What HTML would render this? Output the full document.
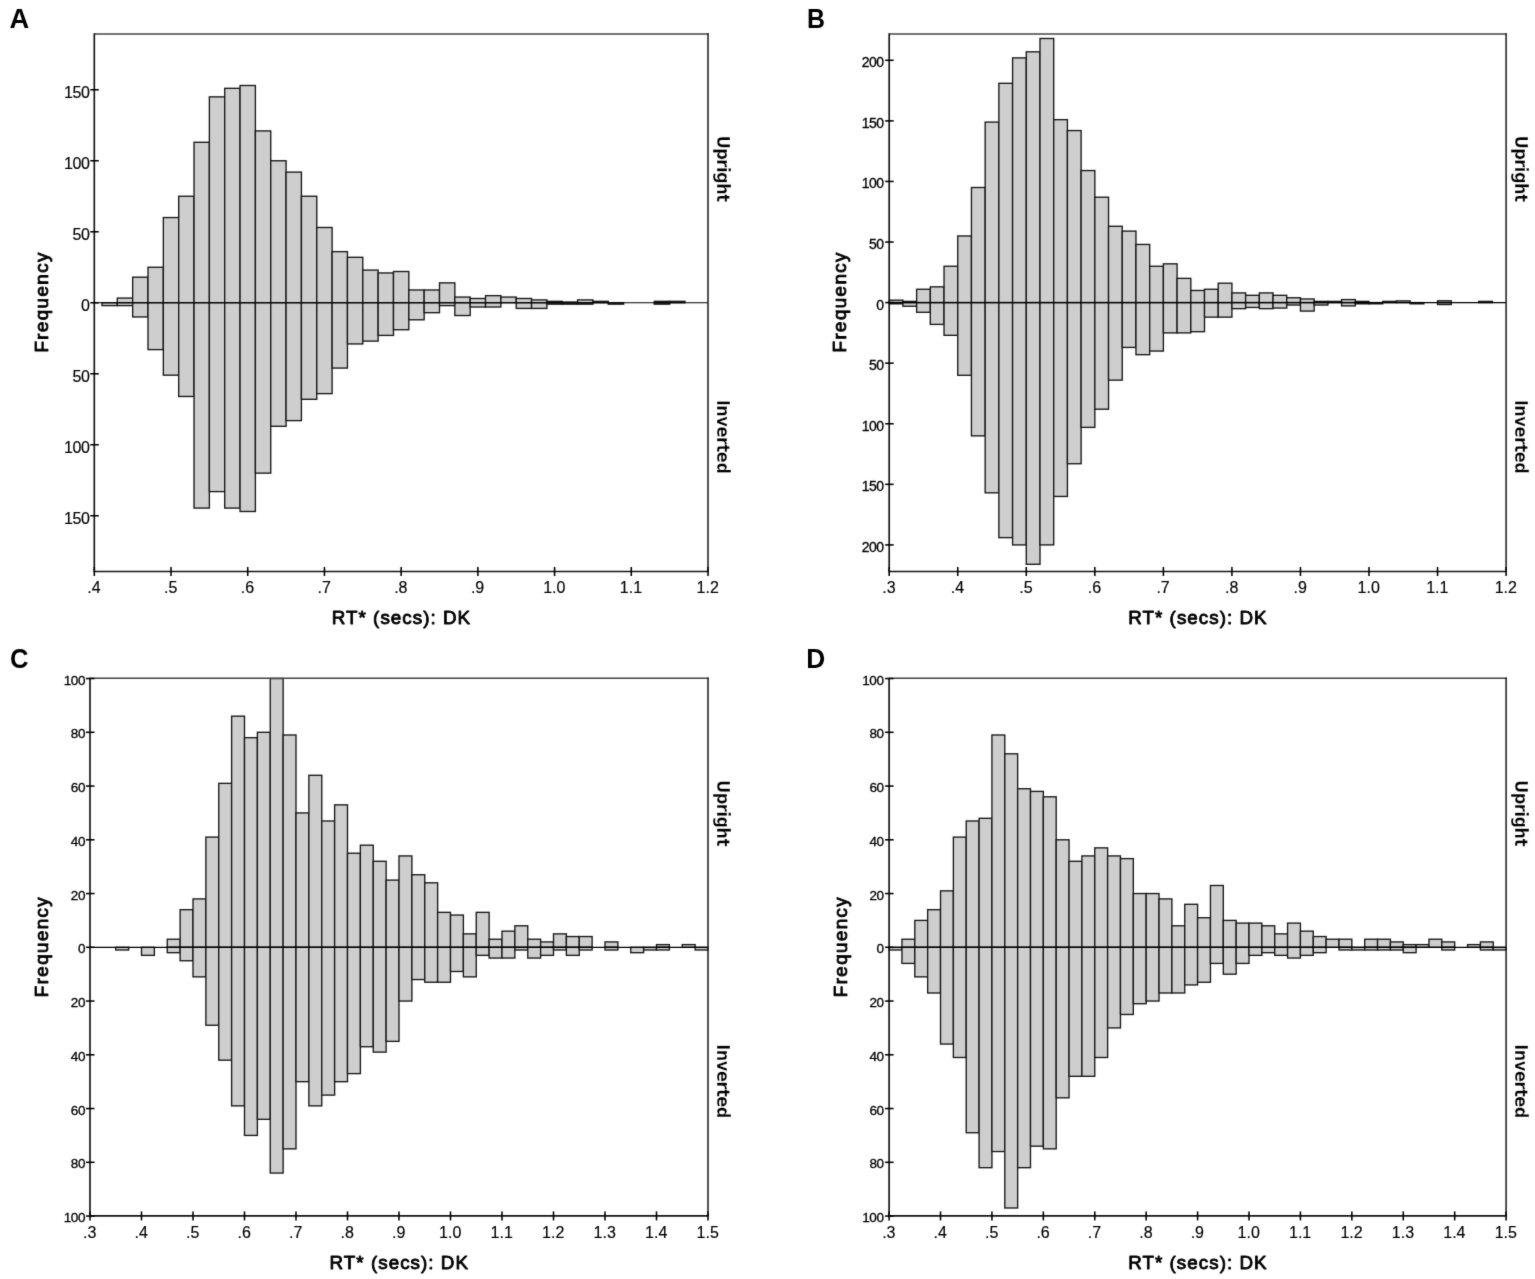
<!DOCTYPE html>
<html lang="en"><head><meta charset="utf-8"><title>RT distributions</title>
<style>
html,body{margin:0;padding:0;background:#fff;}
body{width:1535px;height:1279px;overflow:hidden;}
svg{display:block;}
text{font-family:"Liberation Sans",Arial,Helvetica,sans-serif;fill:#000;}
.tl{stroke:#000;stroke-width:0.15px;}
.tm{stroke:#000;stroke-width:0.3px;}
.b{fill:#cecece;stroke:#181818;stroke-width:1.35;}
.ax{stroke:#141414;stroke-width:1.65;fill:none;}
.fr{stroke:#1a1a1a;stroke-width:1.5;fill:none;}
.ft{stroke:#444;stroke-width:1.5;fill:none;}
.tk{stroke:#000;stroke-width:1.55;fill:none;}
.zl{stroke:#000;stroke-width:1.2;fill:none;}
.pl{font-weight:bold;font-size:27.3px;}
.at{font-weight:normal;font-size:18.8px;stroke:#000;stroke-width:0.85px;stroke-linejoin:round;}
.sd{font-family:"DejaVu Sans Condensed","DejaVu Sans","Liberation Sans",sans-serif;font-weight:bold;font-size:18px;letter-spacing:-0.45px;stroke:#fff;stroke-width:0.3px;paint-order:fill stroke;}
</style></head><body>
<svg width="1535" height="1279" viewBox="0 0 1535 1279">
<defs><filter id="soft" x="0" y="0" width="1535" height="1279" filterUnits="userSpaceOnUse" color-interpolation-filters="sRGB"><feConvolveMatrix order="3" kernelMatrix="0.011 0.084 0.011 0.084 0.62 0.084 0.011 0.084 0.011" divisor="1" edgeMode="duplicate" preserveAlpha="true"/></filter></defs>
<g filter="url(#soft)">
<rect x="0" y="0" width="1535" height="1279" fill="#fff"/>
<g id="panel-A">
<rect class="b" x="101.97" y="302.75" width="15.34" height="2.84"/>
<rect class="b" x="117.31" y="298.06" width="15.34" height="4.69"/>
<rect class="b" x="117.31" y="302.75" width="15.34" height="2.84"/>
<rect class="b" x="132.66" y="277.19" width="15.34" height="25.56"/>
<rect class="b" x="132.66" y="302.75" width="15.34" height="14.2"/>
<rect class="b" x="148" y="267.25" width="15.34" height="35.5"/>
<rect class="b" x="148" y="302.75" width="15.34" height="46.86"/>
<rect class="b" x="163.34" y="217.55" width="15.34" height="85.2"/>
<rect class="b" x="163.34" y="302.75" width="15.34" height="72.42"/>
<rect class="b" x="178.68" y="196.25" width="15.34" height="106.5"/>
<rect class="b" x="178.68" y="302.75" width="15.34" height="93.72"/>
<rect class="b" x="194.03" y="142.29" width="15.34" height="160.46"/>
<rect class="b" x="194.03" y="302.75" width="15.34" height="205.33"/>
<rect class="b" x="209.37" y="96.85" width="15.34" height="205.9"/>
<rect class="b" x="209.37" y="302.75" width="15.34" height="188.86"/>
<rect class="b" x="224.71" y="88.33" width="15.34" height="214.42"/>
<rect class="b" x="224.71" y="302.75" width="15.34" height="205.33"/>
<rect class="b" x="240.05" y="85.49" width="15.34" height="217.26"/>
<rect class="b" x="240.05" y="302.75" width="15.34" height="208.74"/>
<rect class="b" x="255.4" y="130.93" width="15.34" height="171.82"/>
<rect class="b" x="255.4" y="302.75" width="15.34" height="170.4"/>
<rect class="b" x="270.74" y="160.75" width="15.34" height="142"/>
<rect class="b" x="270.74" y="302.75" width="15.34" height="123.54"/>
<rect class="b" x="286.08" y="172.11" width="15.34" height="130.64"/>
<rect class="b" x="286.08" y="302.75" width="15.34" height="117.86"/>
<rect class="b" x="301.42" y="196.25" width="15.34" height="106.5"/>
<rect class="b" x="301.42" y="302.75" width="15.34" height="96.56"/>
<rect class="b" x="316.77" y="227.49" width="15.34" height="75.26"/>
<rect class="b" x="316.77" y="302.75" width="15.34" height="90.88"/>
<rect class="b" x="332.11" y="251.63" width="15.34" height="51.12"/>
<rect class="b" x="332.11" y="302.75" width="15.34" height="65.32"/>
<rect class="b" x="347.45" y="257.31" width="15.34" height="45.44"/>
<rect class="b" x="347.45" y="302.75" width="15.34" height="41.18"/>
<rect class="b" x="362.79" y="270.09" width="15.34" height="32.66"/>
<rect class="b" x="362.79" y="302.75" width="15.34" height="38.34"/>
<rect class="b" x="378.14" y="272.93" width="15.34" height="29.82"/>
<rect class="b" x="378.14" y="302.75" width="15.34" height="32.66"/>
<rect class="b" x="393.48" y="271.51" width="15.34" height="31.24"/>
<rect class="b" x="393.48" y="302.75" width="15.34" height="26.98"/>
<rect class="b" x="408.82" y="289.97" width="15.34" height="12.78"/>
<rect class="b" x="408.82" y="302.75" width="15.34" height="17.04"/>
<rect class="b" x="424.16" y="289.97" width="15.34" height="12.78"/>
<rect class="b" x="424.16" y="302.75" width="15.34" height="9.94"/>
<rect class="b" x="439.51" y="282.87" width="15.34" height="19.88"/>
<rect class="b" x="439.51" y="302.75" width="15.34" height="2.84"/>
<rect class="b" x="454.85" y="297.07" width="15.34" height="5.68"/>
<rect class="b" x="454.85" y="302.75" width="15.34" height="12.78"/>
<rect class="b" x="470.19" y="298.49" width="15.34" height="4.26"/>
<rect class="b" x="470.19" y="302.75" width="15.34" height="4.26"/>
<rect class="b" x="485.53" y="295.65" width="15.34" height="7.1"/>
<rect class="b" x="485.53" y="302.75" width="15.34" height="4.26"/>
<rect class="b" x="500.88" y="297.07" width="15.34" height="5.68"/>
<rect class="b" x="516.22" y="298.49" width="15.34" height="4.26"/>
<rect class="b" x="516.22" y="302.75" width="15.34" height="5.68"/>
<rect class="b" x="531.56" y="299.91" width="15.34" height="2.84"/>
<rect class="b" x="531.56" y="302.75" width="15.34" height="5.68"/>
<rect class="b" x="546.9" y="301.33" width="15.34" height="1.42"/>
<rect class="b" x="546.9" y="302.75" width="15.34" height="1.42"/>
<rect class="b" x="562.25" y="302.04" width="15.34" height="0.71"/>
<rect class="b" x="562.25" y="302.75" width="15.34" height="1.42"/>
<rect class="b" x="577.59" y="299.91" width="15.34" height="2.84"/>
<rect class="b" x="577.59" y="302.75" width="15.34" height="1.42"/>
<rect class="b" x="592.93" y="301.33" width="15.34" height="1.42"/>
<rect class="b" x="608.27" y="302.75" width="15.34" height="1.42"/>
<rect class="b" x="654.3" y="301.33" width="15.34" height="1.42"/>
<rect class="b" x="654.3" y="302.75" width="15.34" height="1.42"/>
<rect class="b" x="669.64" y="301.33" width="15.34" height="1.42"/>
<line class="zl" x1="94.3" y1="302.75" x2="708" y2="302.75"/>
<path class="ft" d="M94.3 33.9H708.7"/>
<path class="fr" d="M708 33.2V571.5"/>
<path class="ax" d="M94.3 33.3V571.5H708.6"/>
<line class="tk" x1="90.3" y1="89.75" x2="98.8" y2="89.75"/>
<text class="tl" x="89.3" y="98.18" text-anchor="end" font-size="16" letter-spacing="-0.5">150</text>
<line class="tk" x1="90.3" y1="160.75" x2="98.8" y2="160.75"/>
<text class="tl" x="89.3" y="169.18" text-anchor="end" font-size="16" letter-spacing="-0.5">100</text>
<line class="tk" x1="90.3" y1="231.75" x2="98.8" y2="231.75"/>
<text class="tl" x="89.3" y="240.18" text-anchor="end" font-size="16" letter-spacing="-0.5">50</text>
<line class="tk" x1="90.3" y1="302.75" x2="98.8" y2="302.75"/>
<text class="tl" x="89.3" y="311.18" text-anchor="end" font-size="16" letter-spacing="-0.5">0</text>
<line class="tk" x1="90.3" y1="373.75" x2="98.8" y2="373.75"/>
<text class="tl" x="89.3" y="382.18" text-anchor="end" font-size="16" letter-spacing="-0.5">50</text>
<line class="tk" x1="90.3" y1="444.75" x2="98.8" y2="444.75"/>
<text class="tl" x="89.3" y="453.18" text-anchor="end" font-size="16" letter-spacing="-0.5">100</text>
<line class="tk" x1="90.3" y1="515.75" x2="98.8" y2="515.75"/>
<text class="tl" x="89.3" y="524.18" text-anchor="end" font-size="16" letter-spacing="-0.5">150</text>
<line class="tk" x1="94.3" y1="567" x2="94.3" y2="576"/>
<text class="tl" x="94" y="593.1" text-anchor="middle" font-size="16">.4</text>
<line class="tk" x1="171.01" y1="567" x2="171.01" y2="576"/>
<text class="tl" x="170.71" y="593.1" text-anchor="middle" font-size="16">.5</text>
<line class="tk" x1="247.73" y1="567" x2="247.73" y2="576"/>
<text class="tl" x="247.43" y="593.1" text-anchor="middle" font-size="16">.6</text>
<line class="tk" x1="324.44" y1="567" x2="324.44" y2="576"/>
<text class="tl" x="324.14" y="593.1" text-anchor="middle" font-size="16">.7</text>
<line class="tk" x1="401.15" y1="567" x2="401.15" y2="576"/>
<text class="tl" x="400.85" y="593.1" text-anchor="middle" font-size="16">.8</text>
<line class="tk" x1="477.86" y1="567" x2="477.86" y2="576"/>
<text class="tl" x="477.56" y="593.1" text-anchor="middle" font-size="16">.9</text>
<line class="tk" x1="554.58" y1="567" x2="554.58" y2="576"/>
<text class="tl" x="554.28" y="593.1" text-anchor="middle" font-size="16">1.0</text>
<line class="tk" x1="631.29" y1="567" x2="631.29" y2="576"/>
<text class="tl" x="630.99" y="593.1" text-anchor="middle" font-size="16">1.1</text>
<line class="tk" x1="708" y1="567" x2="708" y2="576"/>
<text class="tl" x="707.7" y="593.1" text-anchor="middle" font-size="16">1.2</text>
<text class="at" x="401.45" y="624.1" text-anchor="middle" letter-spacing="1.04">RT* (secs): DK</text>
<text class="at" transform="translate(47.8 301.95) rotate(-90)" text-anchor="middle" letter-spacing="1.4">Frequency</text>
<text class="sd" transform="translate(716.9 168.52) rotate(90)" text-anchor="middle">Upright</text>
<text class="sd" transform="translate(716.9 436.62) rotate(90)" text-anchor="middle">Inverted</text>
<text class="pl" transform="translate(9.6 28.3) scale(1.0 1)">A</text>
</g>
<g id="panel-B">
<rect class="b" x="889.2" y="300.18" width="13.71" height="2.42"/>
<rect class="b" x="889.2" y="302.6" width="13.71" height="1.21"/>
<rect class="b" x="902.91" y="301.39" width="13.71" height="1.21"/>
<rect class="b" x="902.91" y="302.6" width="13.71" height="3.63"/>
<rect class="b" x="916.62" y="289.27" width="13.71" height="13.33"/>
<rect class="b" x="916.62" y="302.6" width="13.71" height="9.69"/>
<rect class="b" x="930.33" y="286.85" width="13.71" height="15.75"/>
<rect class="b" x="930.33" y="302.6" width="13.71" height="21.81"/>
<rect class="b" x="944.04" y="266.25" width="13.71" height="36.34"/>
<rect class="b" x="944.04" y="302.6" width="13.71" height="32.71"/>
<rect class="b" x="957.74" y="235.97" width="13.71" height="66.63"/>
<rect class="b" x="957.74" y="302.6" width="13.71" height="72.69"/>
<rect class="b" x="971.45" y="187.51" width="13.71" height="115.09"/>
<rect class="b" x="971.45" y="302.6" width="13.71" height="133.27"/>
<rect class="b" x="985.16" y="122.09" width="13.71" height="180.51"/>
<rect class="b" x="985.16" y="302.6" width="13.71" height="190.21"/>
<rect class="b" x="998.87" y="83.32" width="13.71" height="219.28"/>
<rect class="b" x="998.87" y="302.6" width="13.71" height="235.03"/>
<rect class="b" x="1012.58" y="57.88" width="13.71" height="244.72"/>
<rect class="b" x="1012.58" y="302.6" width="13.71" height="242.3"/>
<rect class="b" x="1026.29" y="51.82" width="13.71" height="250.78"/>
<rect class="b" x="1026.29" y="302.6" width="13.71" height="261.68"/>
<rect class="b" x="1040" y="38.49" width="13.71" height="264.11"/>
<rect class="b" x="1040" y="302.6" width="13.71" height="242.3"/>
<rect class="b" x="1053.71" y="119.66" width="13.71" height="182.94"/>
<rect class="b" x="1053.71" y="302.6" width="13.71" height="193.84"/>
<rect class="b" x="1067.42" y="130.57" width="13.71" height="172.03"/>
<rect class="b" x="1067.42" y="302.6" width="13.71" height="161.13"/>
<rect class="b" x="1081.12" y="170.55" width="13.71" height="132.05"/>
<rect class="b" x="1081.12" y="302.6" width="13.71" height="124.78"/>
<rect class="b" x="1094.83" y="197.2" width="13.71" height="105.4"/>
<rect class="b" x="1094.83" y="302.6" width="13.71" height="106.61"/>
<rect class="b" x="1108.54" y="226.28" width="13.71" height="76.32"/>
<rect class="b" x="1108.54" y="302.6" width="13.71" height="77.54"/>
<rect class="b" x="1122.25" y="231.12" width="13.71" height="71.48"/>
<rect class="b" x="1122.25" y="302.6" width="13.71" height="44.83"/>
<rect class="b" x="1135.96" y="244.45" width="13.71" height="58.15"/>
<rect class="b" x="1135.96" y="302.6" width="13.71" height="52.09"/>
<rect class="b" x="1149.67" y="266.25" width="13.71" height="36.34"/>
<rect class="b" x="1149.67" y="302.6" width="13.71" height="48.46"/>
<rect class="b" x="1163.38" y="263.83" width="13.71" height="38.77"/>
<rect class="b" x="1163.38" y="302.6" width="13.71" height="30.29"/>
<rect class="b" x="1177.09" y="278.37" width="13.71" height="24.23"/>
<rect class="b" x="1177.09" y="302.6" width="13.71" height="30.29"/>
<rect class="b" x="1190.8" y="290.49" width="13.71" height="12.12"/>
<rect class="b" x="1190.8" y="302.6" width="13.71" height="29.08"/>
<rect class="b" x="1204.5" y="289.27" width="13.71" height="13.33"/>
<rect class="b" x="1204.5" y="302.6" width="13.71" height="14.54"/>
<rect class="b" x="1218.21" y="283.22" width="13.71" height="19.38"/>
<rect class="b" x="1218.21" y="302.6" width="13.71" height="14.54"/>
<rect class="b" x="1231.92" y="292.91" width="13.71" height="9.69"/>
<rect class="b" x="1231.92" y="302.6" width="13.71" height="6.06"/>
<rect class="b" x="1245.63" y="295.33" width="13.71" height="7.27"/>
<rect class="b" x="1245.63" y="302.6" width="13.71" height="4.85"/>
<rect class="b" x="1259.34" y="292.91" width="13.71" height="9.69"/>
<rect class="b" x="1259.34" y="302.6" width="13.71" height="6.06"/>
<rect class="b" x="1273.05" y="295.33" width="13.71" height="7.27"/>
<rect class="b" x="1273.05" y="302.6" width="13.71" height="5.45"/>
<rect class="b" x="1286.76" y="297.75" width="13.71" height="4.85"/>
<rect class="b" x="1286.76" y="302.6" width="13.71" height="2.42"/>
<rect class="b" x="1300.47" y="298.97" width="13.71" height="3.63"/>
<rect class="b" x="1300.47" y="302.6" width="13.71" height="8.48"/>
<rect class="b" x="1314.18" y="301.39" width="13.71" height="1.21"/>
<rect class="b" x="1314.18" y="302.6" width="13.71" height="2.42"/>
<rect class="b" x="1327.88" y="301.39" width="13.71" height="1.21"/>
<rect class="b" x="1341.59" y="299.57" width="13.71" height="3.03"/>
<rect class="b" x="1341.59" y="302.6" width="13.71" height="3.27"/>
<rect class="b" x="1355.3" y="301.39" width="13.71" height="1.21"/>
<rect class="b" x="1355.3" y="302.6" width="13.71" height="1.21"/>
<rect class="b" x="1369.01" y="302.6" width="13.71" height="1.21"/>
<rect class="b" x="1382.72" y="301.39" width="13.71" height="1.21"/>
<rect class="b" x="1396.43" y="300.9" width="13.71" height="1.7"/>
<rect class="b" x="1410.14" y="302.6" width="13.71" height="1.21"/>
<rect class="b" x="1437.56" y="300.78" width="13.71" height="1.82"/>
<rect class="b" x="1437.56" y="302.6" width="13.71" height="1.94"/>
<rect class="b" x="1478.68" y="301.39" width="13.71" height="1.21"/>
<line class="zl" x1="889.2" y1="302.6" x2="1506.1" y2="302.6"/>
<path class="ft" d="M889.2 33.9H1506.8"/>
<path class="fr" d="M1506.1 33.2V571.5"/>
<path class="ax" d="M889.2 33.3V571.5H1506.7"/>
<line class="tk" x1="885.2" y1="60.3" x2="893.7" y2="60.3"/>
<text class="tm" x="883.4" y="67.31" text-anchor="end" font-size="14" letter-spacing="-0.55">200</text>
<line class="tk" x1="885.2" y1="120.88" x2="893.7" y2="120.88"/>
<text class="tm" x="883.4" y="127.89" text-anchor="end" font-size="14" letter-spacing="-0.55">150</text>
<line class="tk" x1="885.2" y1="181.45" x2="893.7" y2="181.45"/>
<text class="tm" x="883.4" y="188.46" text-anchor="end" font-size="14" letter-spacing="-0.55">100</text>
<line class="tk" x1="885.2" y1="242.03" x2="893.7" y2="242.03"/>
<text class="tm" x="883.4" y="249.04" text-anchor="end" font-size="14" letter-spacing="-0.55">50</text>
<line class="tk" x1="885.2" y1="302.6" x2="893.7" y2="302.6"/>
<text class="tm" x="883.4" y="309.61" text-anchor="end" font-size="14" letter-spacing="-0.55">0</text>
<line class="tk" x1="885.2" y1="363.18" x2="893.7" y2="363.18"/>
<text class="tm" x="883.4" y="370.19" text-anchor="end" font-size="14" letter-spacing="-0.55">50</text>
<line class="tk" x1="885.2" y1="423.75" x2="893.7" y2="423.75"/>
<text class="tm" x="883.4" y="430.76" text-anchor="end" font-size="14" letter-spacing="-0.55">100</text>
<line class="tk" x1="885.2" y1="484.33" x2="893.7" y2="484.33"/>
<text class="tm" x="883.4" y="491.34" text-anchor="end" font-size="14" letter-spacing="-0.55">150</text>
<line class="tk" x1="885.2" y1="544.9" x2="893.7" y2="544.9"/>
<text class="tm" x="883.4" y="551.91" text-anchor="end" font-size="14" letter-spacing="-0.55">200</text>
<line class="tk" x1="889.2" y1="567" x2="889.2" y2="576"/>
<text class="tl" x="888.9" y="593.1" text-anchor="middle" font-size="16">.3</text>
<line class="tk" x1="957.74" y1="567" x2="957.74" y2="576"/>
<text class="tl" x="957.44" y="593.1" text-anchor="middle" font-size="16">.4</text>
<line class="tk" x1="1026.29" y1="567" x2="1026.29" y2="576"/>
<text class="tl" x="1025.99" y="593.1" text-anchor="middle" font-size="16">.5</text>
<line class="tk" x1="1094.83" y1="567" x2="1094.83" y2="576"/>
<text class="tl" x="1094.53" y="593.1" text-anchor="middle" font-size="16">.6</text>
<line class="tk" x1="1163.38" y1="567" x2="1163.38" y2="576"/>
<text class="tl" x="1163.08" y="593.1" text-anchor="middle" font-size="16">.7</text>
<line class="tk" x1="1231.92" y1="567" x2="1231.92" y2="576"/>
<text class="tl" x="1231.62" y="593.1" text-anchor="middle" font-size="16">.8</text>
<line class="tk" x1="1300.47" y1="567" x2="1300.47" y2="576"/>
<text class="tl" x="1300.17" y="593.1" text-anchor="middle" font-size="16">.9</text>
<line class="tk" x1="1369.01" y1="567" x2="1369.01" y2="576"/>
<text class="tl" x="1368.71" y="593.1" text-anchor="middle" font-size="16">1.0</text>
<line class="tk" x1="1437.56" y1="567" x2="1437.56" y2="576"/>
<text class="tl" x="1437.26" y="593.1" text-anchor="middle" font-size="16">1.1</text>
<line class="tk" x1="1506.1" y1="567" x2="1506.1" y2="576"/>
<text class="tl" x="1505.8" y="593.1" text-anchor="middle" font-size="16">1.2</text>
<text class="at" x="1197.95" y="624.1" text-anchor="middle" letter-spacing="1.04">RT* (secs): DK</text>
<text class="at" transform="translate(846.3 301.8) rotate(-90)" text-anchor="middle" letter-spacing="1.4">Frequency</text>
<text class="sd" transform="translate(1515 168.45) rotate(90)" text-anchor="middle">Upright</text>
<text class="sd" transform="translate(1515 436.55) rotate(90)" text-anchor="middle">Inverted</text>
<text class="pl" transform="translate(807.1 28.3) scale(0.912 1)">B</text>
</g>
<g id="panel-C">
<rect class="b" x="115.75" y="947.3" width="12.88" height="2.69"/>
<rect class="b" x="141.5" y="947.3" width="12.88" height="8.06"/>
<rect class="b" x="167.25" y="939.24" width="12.88" height="8.06"/>
<rect class="b" x="167.25" y="947.3" width="12.88" height="5.38"/>
<rect class="b" x="180.12" y="909.67" width="12.88" height="37.62"/>
<rect class="b" x="180.12" y="947.3" width="12.88" height="13.44"/>
<rect class="b" x="193" y="898.92" width="12.88" height="48.38"/>
<rect class="b" x="193" y="947.3" width="12.88" height="29.56"/>
<rect class="b" x="205.88" y="837.11" width="12.88" height="110.19"/>
<rect class="b" x="205.88" y="947.3" width="12.88" height="77.94"/>
<rect class="b" x="218.75" y="783.36" width="12.88" height="163.94"/>
<rect class="b" x="218.75" y="947.3" width="12.88" height="112.88"/>
<rect class="b" x="231.62" y="716.17" width="12.88" height="231.12"/>
<rect class="b" x="231.62" y="947.3" width="12.88" height="158.56"/>
<rect class="b" x="244.5" y="737.67" width="12.88" height="209.62"/>
<rect class="b" x="244.5" y="947.3" width="12.88" height="188.12"/>
<rect class="b" x="257.38" y="732.3" width="12.88" height="215"/>
<rect class="b" x="257.38" y="947.3" width="12.88" height="172"/>
<rect class="b" x="270.25" y="678.55" width="12.88" height="268.75"/>
<rect class="b" x="270.25" y="947.3" width="12.88" height="225.75"/>
<rect class="b" x="283.12" y="734.99" width="12.88" height="212.31"/>
<rect class="b" x="283.12" y="947.3" width="12.88" height="201.56"/>
<rect class="b" x="296" y="812.92" width="12.88" height="134.38"/>
<rect class="b" x="296" y="947.3" width="12.88" height="134.38"/>
<rect class="b" x="308.88" y="775.3" width="12.88" height="172"/>
<rect class="b" x="308.88" y="947.3" width="12.88" height="158.56"/>
<rect class="b" x="321.75" y="820.99" width="12.88" height="126.31"/>
<rect class="b" x="321.75" y="947.3" width="12.88" height="147.81"/>
<rect class="b" x="334.62" y="804.86" width="12.88" height="142.44"/>
<rect class="b" x="334.62" y="947.3" width="12.88" height="134.38"/>
<rect class="b" x="347.5" y="853.24" width="12.88" height="94.06"/>
<rect class="b" x="347.5" y="947.3" width="12.88" height="126.31"/>
<rect class="b" x="360.37" y="845.17" width="12.88" height="102.12"/>
<rect class="b" x="360.37" y="947.3" width="12.88" height="99.44"/>
<rect class="b" x="373.25" y="861.3" width="12.88" height="86"/>
<rect class="b" x="373.25" y="947.3" width="12.88" height="104.81"/>
<rect class="b" x="386.12" y="880.11" width="12.88" height="67.19"/>
<rect class="b" x="386.12" y="947.3" width="12.88" height="94.06"/>
<rect class="b" x="399" y="855.92" width="12.88" height="91.38"/>
<rect class="b" x="399" y="947.3" width="12.88" height="53.75"/>
<rect class="b" x="411.88" y="874.74" width="12.88" height="72.56"/>
<rect class="b" x="411.88" y="947.3" width="12.88" height="32.25"/>
<rect class="b" x="424.75" y="882.8" width="12.88" height="64.5"/>
<rect class="b" x="424.75" y="947.3" width="12.88" height="34.94"/>
<rect class="b" x="437.62" y="912.36" width="12.88" height="34.94"/>
<rect class="b" x="437.62" y="947.3" width="12.88" height="34.94"/>
<rect class="b" x="450.5" y="915.05" width="12.88" height="32.25"/>
<rect class="b" x="450.5" y="947.3" width="12.88" height="24.19"/>
<rect class="b" x="463.37" y="933.86" width="12.88" height="13.44"/>
<rect class="b" x="463.37" y="947.3" width="12.88" height="29.56"/>
<rect class="b" x="476.25" y="912.36" width="12.88" height="34.94"/>
<rect class="b" x="476.25" y="947.3" width="12.88" height="8.06"/>
<rect class="b" x="489.13" y="939.24" width="12.88" height="8.06"/>
<rect class="b" x="489.13" y="947.3" width="12.88" height="10.75"/>
<rect class="b" x="502" y="931.17" width="12.88" height="16.12"/>
<rect class="b" x="502" y="947.3" width="12.88" height="10.75"/>
<rect class="b" x="514.88" y="925.8" width="12.88" height="21.5"/>
<rect class="b" x="514.88" y="947.3" width="12.88" height="2.69"/>
<rect class="b" x="527.75" y="939.24" width="12.88" height="8.06"/>
<rect class="b" x="527.75" y="947.3" width="12.88" height="10.75"/>
<rect class="b" x="540.62" y="941.92" width="12.88" height="5.38"/>
<rect class="b" x="540.62" y="947.3" width="12.88" height="8.06"/>
<rect class="b" x="553.5" y="933.86" width="12.88" height="13.44"/>
<rect class="b" x="553.5" y="947.3" width="12.88" height="2.69"/>
<rect class="b" x="566.38" y="936.55" width="12.88" height="10.75"/>
<rect class="b" x="566.38" y="947.3" width="12.88" height="8.06"/>
<rect class="b" x="579.25" y="936.55" width="12.88" height="10.75"/>
<rect class="b" x="579.25" y="947.3" width="12.88" height="2.69"/>
<rect class="b" x="605" y="941.92" width="12.88" height="5.38"/>
<rect class="b" x="605" y="947.3" width="12.88" height="2.69"/>
<rect class="b" x="630.75" y="947.3" width="12.88" height="5.38"/>
<rect class="b" x="643.62" y="947.3" width="12.88" height="2.69"/>
<rect class="b" x="656.5" y="944.61" width="12.88" height="2.69"/>
<rect class="b" x="656.5" y="947.3" width="12.88" height="2.69"/>
<rect class="b" x="682.25" y="944.61" width="12.88" height="2.69"/>
<rect class="b" x="695.12" y="947.3" width="12.88" height="2.69"/>
<line class="zl" x1="90" y1="947.3" x2="708" y2="947.3"/>
<path class="ft" d="M90 678.3H708.7"/>
<path class="fr" d="M708 677.6V1215.9"/>
<path class="ax" d="M90 677.7V1215.9H708.6"/>
<line class="tk" x1="86" y1="678.55" x2="94.5" y2="678.55"/>
<text class="tm" x="85" y="684.63" text-anchor="end" font-size="13.5" letter-spacing="-0.4">100</text>
<line class="tk" x1="86" y1="732.3" x2="94.5" y2="732.3"/>
<text class="tm" x="85" y="738.38" text-anchor="end" font-size="13.5" letter-spacing="-0.4">80</text>
<line class="tk" x1="86" y1="786.05" x2="94.5" y2="786.05"/>
<text class="tm" x="85" y="792.13" text-anchor="end" font-size="13.5" letter-spacing="-0.4">60</text>
<line class="tk" x1="86" y1="839.8" x2="94.5" y2="839.8"/>
<text class="tm" x="85" y="845.88" text-anchor="end" font-size="13.5" letter-spacing="-0.4">40</text>
<line class="tk" x1="86" y1="893.55" x2="94.5" y2="893.55"/>
<text class="tm" x="85" y="899.63" text-anchor="end" font-size="13.5" letter-spacing="-0.4">20</text>
<line class="tk" x1="86" y1="947.3" x2="94.5" y2="947.3"/>
<text class="tm" x="85" y="953.38" text-anchor="end" font-size="13.5" letter-spacing="-0.4">0</text>
<line class="tk" x1="86" y1="1001.05" x2="94.5" y2="1001.05"/>
<text class="tm" x="85" y="1007.13" text-anchor="end" font-size="13.5" letter-spacing="-0.4">20</text>
<line class="tk" x1="86" y1="1054.8" x2="94.5" y2="1054.8"/>
<text class="tm" x="85" y="1060.88" text-anchor="end" font-size="13.5" letter-spacing="-0.4">40</text>
<line class="tk" x1="86" y1="1108.55" x2="94.5" y2="1108.55"/>
<text class="tm" x="85" y="1114.63" text-anchor="end" font-size="13.5" letter-spacing="-0.4">60</text>
<line class="tk" x1="86" y1="1162.3" x2="94.5" y2="1162.3"/>
<text class="tm" x="85" y="1168.38" text-anchor="end" font-size="13.5" letter-spacing="-0.4">80</text>
<line class="tk" x1="86" y1="1216.05" x2="94.5" y2="1216.05"/>
<text class="tm" x="85" y="1222.13" text-anchor="end" font-size="13.5" letter-spacing="-0.4">100</text>
<line class="tk" x1="90" y1="1211.4" x2="90" y2="1220.4"/>
<text class="tl" x="89.7" y="1237.5" text-anchor="middle" font-size="16">.3</text>
<line class="tk" x1="141.5" y1="1211.4" x2="141.5" y2="1220.4"/>
<text class="tl" x="141.2" y="1237.5" text-anchor="middle" font-size="16">.4</text>
<line class="tk" x1="193" y1="1211.4" x2="193" y2="1220.4"/>
<text class="tl" x="192.7" y="1237.5" text-anchor="middle" font-size="16">.5</text>
<line class="tk" x1="244.5" y1="1211.4" x2="244.5" y2="1220.4"/>
<text class="tl" x="244.2" y="1237.5" text-anchor="middle" font-size="16">.6</text>
<line class="tk" x1="296" y1="1211.4" x2="296" y2="1220.4"/>
<text class="tl" x="295.7" y="1237.5" text-anchor="middle" font-size="16">.7</text>
<line class="tk" x1="347.5" y1="1211.4" x2="347.5" y2="1220.4"/>
<text class="tl" x="347.2" y="1237.5" text-anchor="middle" font-size="16">.8</text>
<line class="tk" x1="399" y1="1211.4" x2="399" y2="1220.4"/>
<text class="tl" x="398.7" y="1237.5" text-anchor="middle" font-size="16">.9</text>
<line class="tk" x1="450.5" y1="1211.4" x2="450.5" y2="1220.4"/>
<text class="tl" x="450.2" y="1237.5" text-anchor="middle" font-size="16">1.0</text>
<line class="tk" x1="502" y1="1211.4" x2="502" y2="1220.4"/>
<text class="tl" x="501.7" y="1237.5" text-anchor="middle" font-size="16">1.1</text>
<line class="tk" x1="553.5" y1="1211.4" x2="553.5" y2="1220.4"/>
<text class="tl" x="553.2" y="1237.5" text-anchor="middle" font-size="16">1.2</text>
<line class="tk" x1="605" y1="1211.4" x2="605" y2="1220.4"/>
<text class="tl" x="604.7" y="1237.5" text-anchor="middle" font-size="16">1.3</text>
<line class="tk" x1="656.5" y1="1211.4" x2="656.5" y2="1220.4"/>
<text class="tl" x="656.2" y="1237.5" text-anchor="middle" font-size="16">1.4</text>
<line class="tk" x1="708" y1="1211.4" x2="708" y2="1220.4"/>
<text class="tl" x="707.7" y="1237.5" text-anchor="middle" font-size="16">1.5</text>
<text class="at" x="399.3" y="1268.5" text-anchor="middle" letter-spacing="1.04">RT* (secs): DK</text>
<text class="at" transform="translate(48.2 946.5) rotate(-90)" text-anchor="middle" letter-spacing="1.4">Frequency</text>
<text class="sd" transform="translate(716.9 813) rotate(90)" text-anchor="middle">Upright</text>
<text class="sd" transform="translate(716.9 1081.1) rotate(90)" text-anchor="middle">Inverted</text>
<text class="pl" transform="translate(9.9 668.2) scale(0.937 1)">C</text>
</g>
<g id="panel-D">
<rect class="b" x="889.1" y="947.3" width="12.85" height="2.69"/>
<rect class="b" x="901.95" y="939.24" width="12.85" height="8.06"/>
<rect class="b" x="901.95" y="947.3" width="12.85" height="16.12"/>
<rect class="b" x="914.81" y="920.42" width="12.85" height="26.88"/>
<rect class="b" x="914.81" y="947.3" width="12.85" height="29.56"/>
<rect class="b" x="927.66" y="909.67" width="12.85" height="37.62"/>
<rect class="b" x="927.66" y="947.3" width="12.85" height="45.69"/>
<rect class="b" x="940.52" y="890.86" width="12.85" height="56.44"/>
<rect class="b" x="940.52" y="947.3" width="12.85" height="96.75"/>
<rect class="b" x="953.37" y="837.11" width="12.85" height="110.19"/>
<rect class="b" x="953.37" y="947.3" width="12.85" height="110.19"/>
<rect class="b" x="966.23" y="820.99" width="12.85" height="126.31"/>
<rect class="b" x="966.23" y="947.3" width="12.85" height="185.44"/>
<rect class="b" x="979.08" y="818.3" width="12.85" height="129"/>
<rect class="b" x="979.08" y="947.3" width="12.85" height="220.38"/>
<rect class="b" x="991.93" y="734.99" width="12.85" height="212.31"/>
<rect class="b" x="991.93" y="947.3" width="12.85" height="204.25"/>
<rect class="b" x="1004.79" y="753.8" width="12.85" height="193.5"/>
<rect class="b" x="1004.79" y="947.3" width="12.85" height="260.69"/>
<rect class="b" x="1017.64" y="788.74" width="12.85" height="158.56"/>
<rect class="b" x="1017.64" y="947.3" width="12.85" height="220.38"/>
<rect class="b" x="1030.5" y="791.42" width="12.85" height="155.88"/>
<rect class="b" x="1030.5" y="947.3" width="12.85" height="198.88"/>
<rect class="b" x="1043.35" y="796.8" width="12.85" height="150.5"/>
<rect class="b" x="1043.35" y="947.3" width="12.85" height="201.56"/>
<rect class="b" x="1056.2" y="839.8" width="12.85" height="107.5"/>
<rect class="b" x="1056.2" y="947.3" width="12.85" height="150.5"/>
<rect class="b" x="1069.06" y="861.3" width="12.85" height="86"/>
<rect class="b" x="1069.06" y="947.3" width="12.85" height="129"/>
<rect class="b" x="1081.91" y="855.92" width="12.85" height="91.38"/>
<rect class="b" x="1081.91" y="947.3" width="12.85" height="129"/>
<rect class="b" x="1094.77" y="847.86" width="12.85" height="99.44"/>
<rect class="b" x="1094.77" y="947.3" width="12.85" height="110.19"/>
<rect class="b" x="1107.62" y="855.92" width="12.85" height="91.38"/>
<rect class="b" x="1107.62" y="947.3" width="12.85" height="80.62"/>
<rect class="b" x="1120.47" y="858.61" width="12.85" height="88.69"/>
<rect class="b" x="1120.47" y="947.3" width="12.85" height="67.19"/>
<rect class="b" x="1133.33" y="893.55" width="12.85" height="53.75"/>
<rect class="b" x="1133.33" y="947.3" width="12.85" height="56.44"/>
<rect class="b" x="1146.18" y="893.55" width="12.85" height="53.75"/>
<rect class="b" x="1146.18" y="947.3" width="12.85" height="53.75"/>
<rect class="b" x="1159.04" y="898.92" width="12.85" height="48.38"/>
<rect class="b" x="1159.04" y="947.3" width="12.85" height="45.69"/>
<rect class="b" x="1171.89" y="925.8" width="12.85" height="21.5"/>
<rect class="b" x="1171.89" y="947.3" width="12.85" height="45.69"/>
<rect class="b" x="1184.75" y="904.3" width="12.85" height="43"/>
<rect class="b" x="1184.75" y="947.3" width="12.85" height="37.62"/>
<rect class="b" x="1197.6" y="917.74" width="12.85" height="29.56"/>
<rect class="b" x="1197.6" y="947.3" width="12.85" height="34.94"/>
<rect class="b" x="1210.45" y="885.49" width="12.85" height="61.81"/>
<rect class="b" x="1210.45" y="947.3" width="12.85" height="16.12"/>
<rect class="b" x="1223.31" y="920.42" width="12.85" height="26.88"/>
<rect class="b" x="1223.31" y="947.3" width="12.85" height="26.88"/>
<rect class="b" x="1236.16" y="923.11" width="12.85" height="24.19"/>
<rect class="b" x="1236.16" y="947.3" width="12.85" height="16.12"/>
<rect class="b" x="1249.02" y="923.11" width="12.85" height="24.19"/>
<rect class="b" x="1249.02" y="947.3" width="12.85" height="8.06"/>
<rect class="b" x="1261.87" y="925.8" width="12.85" height="21.5"/>
<rect class="b" x="1261.87" y="947.3" width="12.85" height="5.38"/>
<rect class="b" x="1274.72" y="933.86" width="12.85" height="13.44"/>
<rect class="b" x="1274.72" y="947.3" width="12.85" height="8.06"/>
<rect class="b" x="1287.58" y="923.11" width="12.85" height="24.19"/>
<rect class="b" x="1287.58" y="947.3" width="12.85" height="10.75"/>
<rect class="b" x="1300.43" y="931.17" width="12.85" height="16.12"/>
<rect class="b" x="1300.43" y="947.3" width="12.85" height="8.06"/>
<rect class="b" x="1313.29" y="936.55" width="12.85" height="10.75"/>
<rect class="b" x="1313.29" y="947.3" width="12.85" height="5.38"/>
<rect class="b" x="1326.14" y="939.24" width="12.85" height="8.06"/>
<rect class="b" x="1339" y="939.24" width="12.85" height="8.06"/>
<rect class="b" x="1339" y="947.3" width="12.85" height="2.69"/>
<rect class="b" x="1351.85" y="947.3" width="12.85" height="2.69"/>
<rect class="b" x="1364.7" y="939.24" width="12.85" height="8.06"/>
<rect class="b" x="1364.7" y="947.3" width="12.85" height="2.69"/>
<rect class="b" x="1377.56" y="939.24" width="12.85" height="8.06"/>
<rect class="b" x="1377.56" y="947.3" width="12.85" height="2.69"/>
<rect class="b" x="1390.41" y="941.92" width="12.85" height="5.38"/>
<rect class="b" x="1390.41" y="947.3" width="12.85" height="2.69"/>
<rect class="b" x="1403.27" y="944.61" width="12.85" height="2.69"/>
<rect class="b" x="1403.27" y="947.3" width="12.85" height="5.38"/>
<rect class="b" x="1416.12" y="944.61" width="12.85" height="2.69"/>
<rect class="b" x="1428.97" y="939.24" width="12.85" height="8.06"/>
<rect class="b" x="1441.83" y="941.92" width="12.85" height="5.38"/>
<rect class="b" x="1441.83" y="947.3" width="12.85" height="2.69"/>
<rect class="b" x="1467.54" y="944.61" width="12.85" height="2.69"/>
<rect class="b" x="1480.39" y="941.92" width="12.85" height="5.38"/>
<rect class="b" x="1480.39" y="947.3" width="12.85" height="2.69"/>
<rect class="b" x="1493.25" y="947.3" width="12.85" height="2.69"/>
<line class="zl" x1="889.1" y1="947.3" x2="1506.1" y2="947.3"/>
<path class="ft" d="M889.1 678.3H1506.8"/>
<path class="fr" d="M1506.1 677.6V1215.9"/>
<path class="ax" d="M889.1 677.7V1215.9H1506.7"/>
<line class="tk" x1="885.1" y1="678.55" x2="893.6" y2="678.55"/>
<text class="tm" x="883.6" y="684.68" text-anchor="end" font-size="13.5" letter-spacing="-0.4">100</text>
<line class="tk" x1="885.1" y1="732.3" x2="893.6" y2="732.3"/>
<text class="tm" x="883.6" y="738.43" text-anchor="end" font-size="13.5" letter-spacing="-0.4">80</text>
<line class="tk" x1="885.1" y1="786.05" x2="893.6" y2="786.05"/>
<text class="tm" x="883.6" y="792.18" text-anchor="end" font-size="13.5" letter-spacing="-0.4">60</text>
<line class="tk" x1="885.1" y1="839.8" x2="893.6" y2="839.8"/>
<text class="tm" x="883.6" y="845.93" text-anchor="end" font-size="13.5" letter-spacing="-0.4">40</text>
<line class="tk" x1="885.1" y1="893.55" x2="893.6" y2="893.55"/>
<text class="tm" x="883.6" y="899.68" text-anchor="end" font-size="13.5" letter-spacing="-0.4">20</text>
<line class="tk" x1="885.1" y1="947.3" x2="893.6" y2="947.3"/>
<text class="tm" x="883.6" y="953.43" text-anchor="end" font-size="13.5" letter-spacing="-0.4">0</text>
<line class="tk" x1="885.1" y1="1001.05" x2="893.6" y2="1001.05"/>
<text class="tm" x="883.6" y="1007.18" text-anchor="end" font-size="13.5" letter-spacing="-0.4">20</text>
<line class="tk" x1="885.1" y1="1054.8" x2="893.6" y2="1054.8"/>
<text class="tm" x="883.6" y="1060.93" text-anchor="end" font-size="13.5" letter-spacing="-0.4">40</text>
<line class="tk" x1="885.1" y1="1108.55" x2="893.6" y2="1108.55"/>
<text class="tm" x="883.6" y="1114.68" text-anchor="end" font-size="13.5" letter-spacing="-0.4">60</text>
<line class="tk" x1="885.1" y1="1162.3" x2="893.6" y2="1162.3"/>
<text class="tm" x="883.6" y="1168.43" text-anchor="end" font-size="13.5" letter-spacing="-0.4">80</text>
<line class="tk" x1="885.1" y1="1216.05" x2="893.6" y2="1216.05"/>
<text class="tm" x="883.6" y="1222.18" text-anchor="end" font-size="13.5" letter-spacing="-0.4">100</text>
<line class="tk" x1="889.1" y1="1211.4" x2="889.1" y2="1220.4"/>
<text class="tl" x="888.8" y="1237.5" text-anchor="middle" font-size="16">.3</text>
<line class="tk" x1="940.52" y1="1211.4" x2="940.52" y2="1220.4"/>
<text class="tl" x="940.22" y="1237.5" text-anchor="middle" font-size="16">.4</text>
<line class="tk" x1="991.93" y1="1211.4" x2="991.93" y2="1220.4"/>
<text class="tl" x="991.63" y="1237.5" text-anchor="middle" font-size="16">.5</text>
<line class="tk" x1="1043.35" y1="1211.4" x2="1043.35" y2="1220.4"/>
<text class="tl" x="1043.05" y="1237.5" text-anchor="middle" font-size="16">.6</text>
<line class="tk" x1="1094.77" y1="1211.4" x2="1094.77" y2="1220.4"/>
<text class="tl" x="1094.47" y="1237.5" text-anchor="middle" font-size="16">.7</text>
<line class="tk" x1="1146.18" y1="1211.4" x2="1146.18" y2="1220.4"/>
<text class="tl" x="1145.88" y="1237.5" text-anchor="middle" font-size="16">.8</text>
<line class="tk" x1="1197.6" y1="1211.4" x2="1197.6" y2="1220.4"/>
<text class="tl" x="1197.3" y="1237.5" text-anchor="middle" font-size="16">.9</text>
<line class="tk" x1="1249.02" y1="1211.4" x2="1249.02" y2="1220.4"/>
<text class="tl" x="1248.72" y="1237.5" text-anchor="middle" font-size="16">1.0</text>
<line class="tk" x1="1300.43" y1="1211.4" x2="1300.43" y2="1220.4"/>
<text class="tl" x="1300.13" y="1237.5" text-anchor="middle" font-size="16">1.1</text>
<line class="tk" x1="1351.85" y1="1211.4" x2="1351.85" y2="1220.4"/>
<text class="tl" x="1351.55" y="1237.5" text-anchor="middle" font-size="16">1.2</text>
<line class="tk" x1="1403.27" y1="1211.4" x2="1403.27" y2="1220.4"/>
<text class="tl" x="1402.97" y="1237.5" text-anchor="middle" font-size="16">1.3</text>
<line class="tk" x1="1454.68" y1="1211.4" x2="1454.68" y2="1220.4"/>
<text class="tl" x="1454.38" y="1237.5" text-anchor="middle" font-size="16">1.4</text>
<line class="tk" x1="1506.1" y1="1211.4" x2="1506.1" y2="1220.4"/>
<text class="tl" x="1505.8" y="1237.5" text-anchor="middle" font-size="16">1.5</text>
<text class="at" x="1197.9" y="1268.5" text-anchor="middle" letter-spacing="1.04">RT* (secs): DK</text>
<text class="at" transform="translate(846.55 946.5) rotate(-90)" text-anchor="middle" letter-spacing="1.4">Frequency</text>
<text class="sd" transform="translate(1515 813) rotate(90)" text-anchor="middle">Upright</text>
<text class="sd" transform="translate(1515 1081.1) rotate(90)" text-anchor="middle">Inverted</text>
<text class="pl" transform="translate(806.2 668.2) scale(0.964 1)">D</text>
</g>
</g>
</svg>
</body></html>
